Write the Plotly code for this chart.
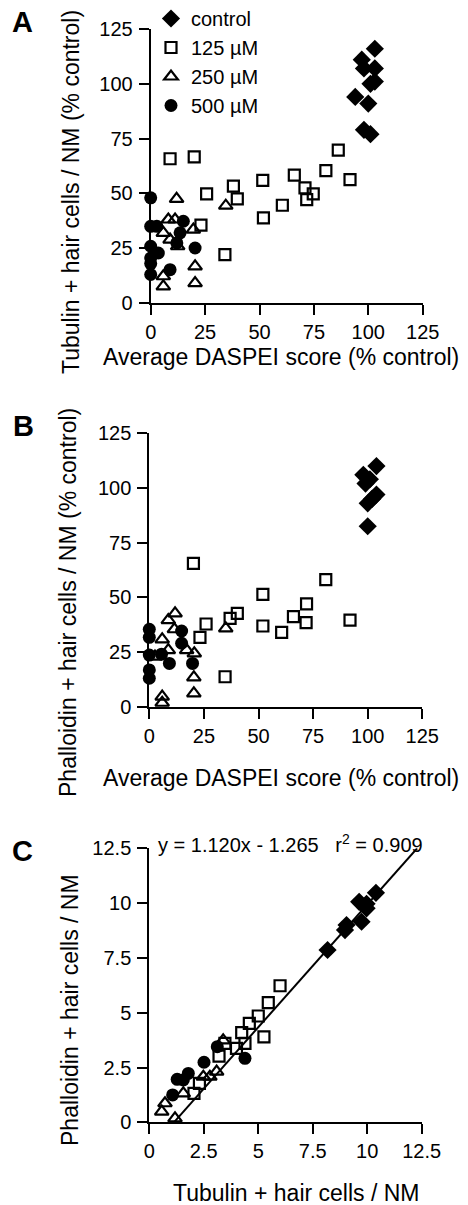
import plotly.graph_objects as go

W, H = 468, 1205

# ---------------- Panel A: Tubulin vs DASPEI ----------------
a_ctrl_x = [103, 97, 98, 103, 103, 101, 94, 100, 98, 101]
a_ctrl_y = [116, 111, 107, 107, 101, 100, 94, 91, 79, 77]
a_125_x = [8.9, 20, 25.7, 38, 39.8, 51.5, 51.8, 60.5, 66, 70.9, 71.7, 74.7, 80.5, 86.2, 91.6, 23.1, 34.1]
a_125_y = [65.8, 66.7, 49.8, 53.3, 47.5, 55.9, 38.8, 44.6, 58.3, 52.5, 47.2, 49.8, 60.4, 69.7, 56.3, 35.5, 22.1]
a_250_x = [11.9, 34.5, 8.1, 11.2, 5.8, 8.9, 12.4, 19.6, 20.4, 20.4, 5.8, 5.8]
a_250_y = [47.5, 44.4, 38.1, 38.1, 32, 28.9, 25.9, 33.5, 16.7, 9.1, 7.6, 12.2]
a_500_x = [0, 0, 2.8, 15, 13.5, 0, 0, 0, 0, 8.9, 20.4, 3.5, 12]
a_500_y = [48, 35, 35, 37.3, 32, 25.9, 20.5, 18, 13, 15.2, 25.1, 22.8, 27.4]

# ---------------- Panel B: Phalloidin vs DASPEI ----------------
b_ctrl_x = [104, 98, 101, 99, 104, 102, 100, 100]
b_ctrl_y = [110, 106, 104, 102, 97, 95, 93, 82.5]
b_125_x = [20.2, 26, 23.2, 37, 40.3, 52, 52, 60.6, 66, 72, 71.8, 80.8, 91.9, 34.7]
b_125_y = [65.5, 37.8, 31.7, 40.4, 42.7, 51.4, 36.9, 34, 41.2, 47, 38.4, 58.1, 39.6, 13.7]
b_250_x = [11.8, 8.7, 11.5, 5.9, 8.7, 17.1, 20.6, 20.4, 20.4, 5.9, 5.9, 35, 2.6]
b_250_y = [42.7, 39.6, 35.4, 30.8, 25.9, 25.9, 24.4, 13.4, 6.1, 4.6, 1.8, 35.8, 22.9]
b_500_x = [0, 0, 14.8, 14.8, 0, 0, 0, 9.2, 19.8, 5.6]
b_500_y = [35.4, 31.7, 34.6, 29, 23.6, 16.8, 13, 19.8, 19.8, 24]

# ---------------- Panel C: Phalloidin vs Tubulin ----------------
c_ctrl_x = [10.4, 9.63, 9.97, 9.97, 9.74, 9.05, 8.98, 8.18]
c_ctrl_y = [10.47, 10.06, 9.97, 9.76, 9.15, 9.0, 8.77, 7.86]
c_125_x = [6.0, 5.46, 5.0, 5.26, 4.59, 4.24, 4.39, 4.0, 3.47, 3.2, 2.05, 2.3]
c_125_y = [6.23, 5.46, 4.85, 3.9, 4.51, 4.09, 3.6, 3.37, 3.6, 3.02, 1.32, 1.78]
c_250_x = [3.09, 2.78, 3.39, 0.72, 0.57, 1.18, 1.56, 2.48]
c_250_y = [2.31, 2.08, 3.74, 0.87, 0.49, 0.18, 1.32, 2.08]
c_500_x = [1.07, 1.28, 1.79, 2.51, 3.12, 4.39, 1.56]
c_500_y = [1.25, 1.96, 2.23, 2.74, 3.45, 2.92, 1.93]

fit_slope = 1.120
fit_intercept = -1.265
fit_x = [1.13, 12.29]

series_names = ["control", "125 µM", "250 µM", "500 µM"]
pct_ticks = [0, 25, 50, 75, 100, 125]
cnt_ticks = [0, 2.5, 5, 7.5, 10, 12.5]
cnt_labels = ["0", "2.5", "5", "7.5", "10", "12.5"]

FONT = "Liberation Sans, Arial, Helvetica, sans-serif"

styles = [
    dict(symbol="diamond", size=14, color="black", line=dict(width=0, color="black")),
    dict(symbol="square-open", size=11, color="black", line=dict(width=2.2, color="black")),
    dict(symbol="triangle-up-open", size=12, color="black", line=dict(width=2.2, color="black")),
    dict(symbol="circle", size=13, color="black", line=dict(width=0, color="black")),
]

fig = go.Figure()

panels = [
    ("x", "y", [(a_ctrl_x, a_ctrl_y), (a_125_x, a_125_y), (a_250_x, a_250_y), (a_500_x, a_500_y)], True),
    ("x2", "y2", [(b_ctrl_x, b_ctrl_y), (b_125_x, b_125_y), (b_250_x, b_250_y), (b_500_x, b_500_y)], False),
    ("x3", "y3", [(c_ctrl_x, c_ctrl_y), (c_125_x, c_125_y), (c_250_x, c_250_y), (c_500_x, c_500_y)], False),
]

order = [1, 2, 3, 0]
for xa, ya, data, show in panels:
    for i in order:
        xs, ys = data[i]
        fig.add_trace(go.Scatter(
            x=xs, y=ys, mode="markers", name=series_names[i],
            marker=styles[i], xaxis=xa, yaxis=ya, cliponaxis=False,
            showlegend=show, legendrank=i + 1, hoverinfo="skip"))

fit_y = [fit_slope * v + fit_intercept for v in fit_x]
fig.add_trace(go.Scatter(x=fit_x, y=fit_y, mode="lines", line=dict(color="black", width=2),
                         xaxis="x3", yaxis="y3", showlegend=False, cliponaxis=False, hoverinfo="skip"))


def px_x(p):
    return p / W


def px_y(p):
    return 1 - p / H


axis_common = dict(showline=True, linewidth=2, linecolor="black", ticks="outside", ticklen=10,
                   tickwidth=2, tickcolor="black", showgrid=False, zeroline=False, automargin=False,
                   tickfont=dict(family=FONT, size=20, color="black"))
xax = dict(ticklabelstandoff=0, **axis_common)
yax = dict(ticklabelstandoff=2, **axis_common)

fig.update_layout(
    template="none",
    width=W, height=H, margin=dict(l=0, r=0, t=0, b=0, pad=0, autoexpand=False),
    paper_bgcolor="white", plot_bgcolor="white",
    font=dict(family=FONT, size=20, color="black"),
    xaxis=dict(domain=[px_x(150.7), px_x(422.7)], range=[0, 125], tickvals=pct_ticks, anchor="y", **xax),
    yaxis=dict(domain=[px_y(303), px_y(29)], range=[0, 125], tickvals=pct_ticks, anchor="x", **yax),
    xaxis2=dict(domain=[px_x(149.3), px_x(422.3)], range=[0, 125], tickvals=pct_ticks, anchor="y2", **xax),
    yaxis2=dict(domain=[px_y(706.7), px_y(433.3)], range=[0, 125], tickvals=pct_ticks, anchor="x2", **yax),
    xaxis3=dict(domain=[px_x(149.3), px_x(421.7)], range=[0, 12.5], tickvals=cnt_ticks, ticktext=cnt_labels,
                anchor="y3", **xax),
    yaxis3=dict(domain=[px_y(1122.3), px_y(848.3)], range=[0, 12.5], tickvals=cnt_ticks, ticktext=cnt_labels,
                anchor="x3", **yax),
    legend=dict(x=px_x(151), y=px_y(-1), xanchor="left", yanchor="top", bgcolor="rgba(0,0,0,0)",
                borderwidth=0, font=dict(family=FONT, size=20, color="black"), tracegroupgap=0,
                itemsizing="trace"),
    showlegend=True,
    hovermode=False,
)

ann = []


def text(x, y, s, size=23, angle=0, bold=False):
    ann.append(dict(x=px_x(x), y=px_y(y), xref="paper", yref="paper", text=("<b>%s</b>" % s) if bold else s,
                    showarrow=False, xanchor="center", yanchor="middle", textangle=angle,
                    font=dict(family=FONT, size=size, color="black")))


text(22, 22, "A", size=29, bold=True)
text(23, 426, "B", size=29, bold=True)
text(22, 851, "C", size=29, bold=True)
text(281, 357, "Average DASPEI score (% control)")
text(281, 778, "Average DASPEI score (% control)")
text(296, 1193, "Tubulin + hair cells / NM")
text(71, 192, "Tubulin + hair cells / NM (% control)", angle=-90)
text(68, 603, "Phalloidin + hair cells / NM (% control)", angle=-90)
text(70, 1010, "Phalloidin + hair cells / NM", angle=-90)
text(290, 843, "y = 1.120x - 1.265   r<sup>2</sup> = 0.909", size=20)

fig.update_layout(annotations=ann)

fig.write_html("out.html", config={"displayModeBar": False, "staticPlot": True},
               post_script="document.body.style.margin='0px';document.body.style.padding='0px';"
                           "document.body.style.overflow='hidden';")
